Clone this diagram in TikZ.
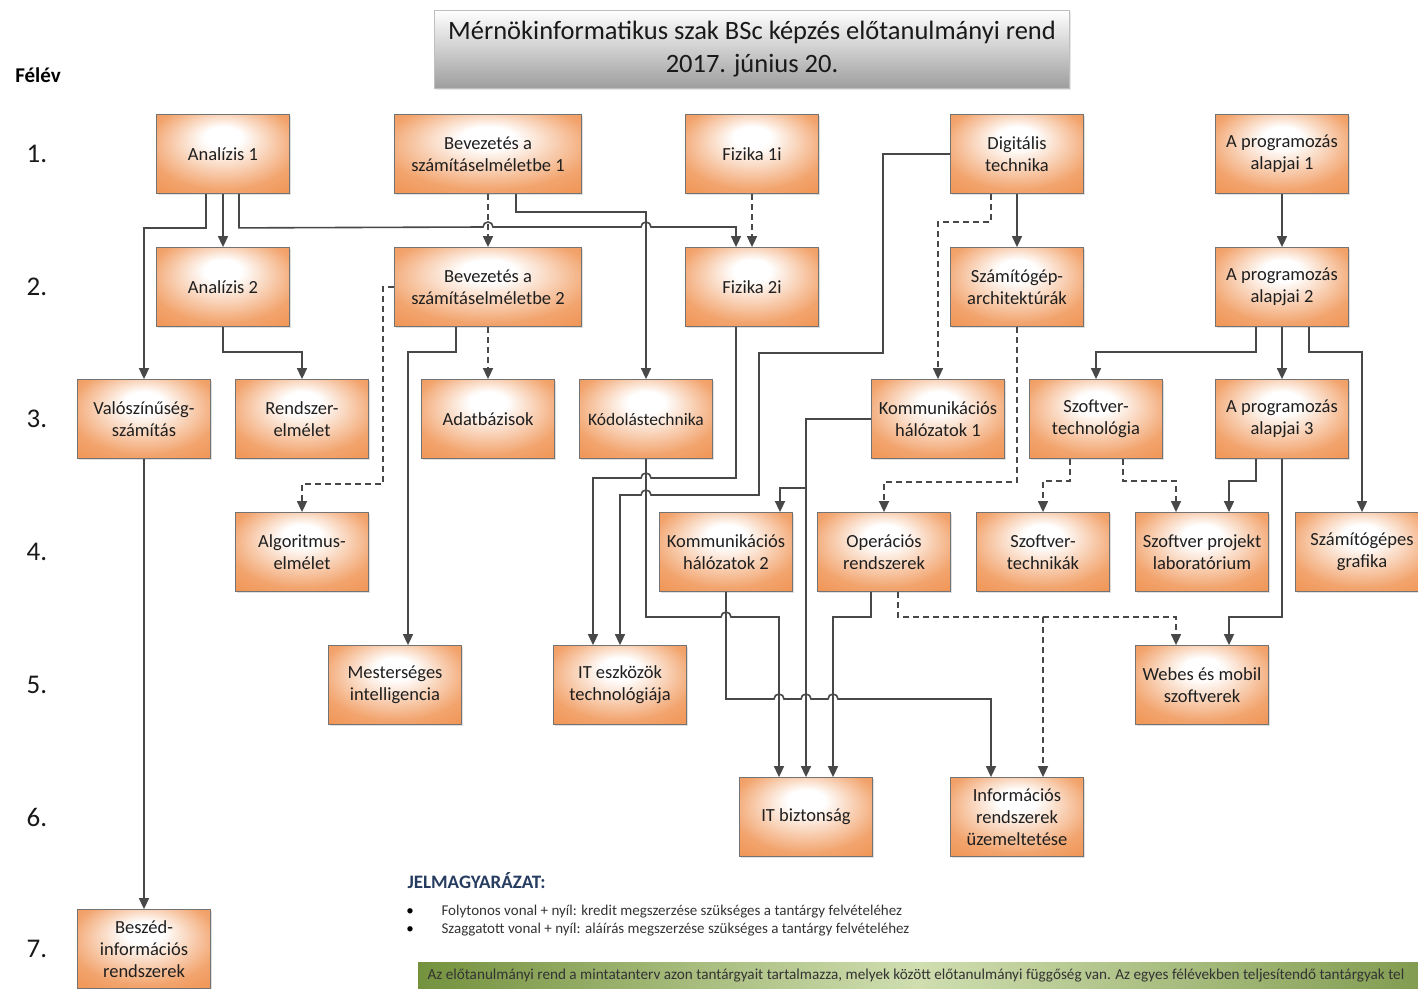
\documentclass[tikz,border=0pt]{standalone}
\usepackage{fontspec}
\setmainfont{Carlito}
\usepackage{tikz}
\usetikzlibrary{calc}
\usetikzlibrary{arrows.meta}
\usetikzlibrary{shadows}

\definecolor{boxorange}{RGB}{240,148,84}
\definecolor{linegray}{RGB}{72,72,72}
\definecolor{legendblue}{RGB}{38,60,96}
\definecolor{bardark}{RGB}{116,146,62}
\definecolor{barlight}{RGB}{208,222,176}

\pgfdeclareradialshading{coursefill}{\pgfpoint{0bp}{12bp}}{%
  color(0bp)=(white); color(7bp)=(white); color(28bp)=(boxorange!85);
  color(38bp)=(boxorange); color(50bp)=(boxorange)}

\tikzset{
  course/.style={draw=black!55, line width=0.8pt, shade, shading=coursefill,
    minimum width=133pt, minimum height=79pt, inner sep=1pt, align=center,
    text=black!88, font=\fontsize{18.5}{22}\selectfont,
    drop shadow={shadow xshift=1.5pt, shadow yshift=-1.5pt, opacity=0.25}},
  widecourse/.style={course, minimum width=187pt},
  titlebox/.style={draw=black!25, top color=white, bottom color=black!38,
    minimum width=635pt, minimum height=78pt, align=center,
    font=\fontsize{26.5}{33}\selectfont, text=black!90,
    drop shadow={shadow xshift=1.5pt, shadow yshift=-1.5pt, opacity=0.2}},
  semester/.style={font=\fontsize{27}{29}\selectfont, text=black!90},
  legendtext/.style={anchor=west, font=\fontsize{15}{17}\selectfont, text=black!80},
  req/.style={draw=linegray, line width=1.6pt, ->},
  sig/.style={req, dash pattern=on 6pt off 4pt},
}

\begin{document}
\begin{tikzpicture}[%
  x=1pt, y=-1pt,
  >={Triangle[length=11pt,width=10pt]},
  % scale=0.5,
]

  \useasboundingbox (0,0) rectangle (1418,988);
  \clip (0,0) rectangle (1418,988);

  % semesters
  \node[font=\bfseries\fontsize{21}{23}\selectfont] (felev) at (38,75) {Félév};
  \foreach \s/\y in {1/154, 2/287, 3/419, 4/552, 5/685, 6/817, 7/949}
    \node[semester] (sem\s) at (37,\y) {\s.};

  \node[titlebox] (title) at (752,49)
    {Mérnökinformatikus szak BSc képzés előtanulmányi rend\\2017. június 20.};

  % 1. félév
  \node[course] (an1) at (223,154) {Analízis 1};
  \node[widecourse] (bev1) at (488,154) {Bevezetés a\\számításelméletbe 1};
  \node[course] (fiz1) at (752,154) {Fizika 1i};
  \node[course] (digit) at (1017,154) {Digitális\\technika};
  \node[course] (prog1) at (1282,154) {A programozás\\alapjai 1};

  % 2. félév
  \node[course] (an2) at (223,287) {Analízis 2};
  \node[widecourse] (bev2) at (488,287) {Bevezetés a\\számításelméletbe 2};
  \node[course] (fiz2) at (752,287) {Fizika 2i};
  \node[course] (arch) at (1017,287) {Számítógép-\\architektúrák};
  \node[course] (prog2) at (1282,287) {A programozás\\alapjai 2};

  % 3. félév
  \node[course] (valsz) at (144,419) {Valószínűség-\\számítás};
  \node[course] (rendsz) at (302,419) {Rendszer-\\elmélet};
  \node[course] (adatb) at (488,419) {Adatbázisok};
  \node[course, font=\fontsize{17.5}{22}\selectfont] (kodol) at (646,419) {Kódolástechnika};
  \node[course] (komm1) at (938,419) {Kommunikációs\\hálózatok 1};
  \node[course] (sztech) at (1096,419) {Szoftver-\\technológia};
  \node[course] (prog3) at (1282,419) {A programozás\\alapjai 3};

  % 4. félév
  \node[course] (algel) at (302,552) {Algoritmus-\\elmélet};
  \node[course] (komm2) at (726,552) {Kommunikációs\\hálózatok 2};
  \node[course] (opr) at (884,552) {Operációs\\rendszerek};
  \node[course] (sztechn) at (1043,552) {Szoftver-\\technikák};
  \node[course] (szplab) at (1202,552) {Szoftver projekt\\laboratórium};
  \node[course] (grafika) at (1362,552) {Számítógépes\\grafika};

  % 5.-7. félév
  \node[course] (mi) at (395,685) {Mesterséges\\intelligencia};
  \node[course] (iteszk) at (620,685) {IT eszközök\\technológiája};
  \node[course] (webes) at (1202,685) {Webes és mobil\\szoftverek};
  \node[course] (itbizt) at (806,817) {IT biztonság};
  \node[course] (inforsz) at (1017,817) {Információs\\rendszerek\\üzemeltetése};
  \node[course] (beszed) at (144,949) {Beszéd-\\információs\\rendszerek};

  % from 1. félév
  \draw[req] ([xshift=-17pt]an1.south) -- ++(0,34) -| (valsz.north);
  \draw[req] (an1) -- (an2);
  \draw[req] ([xshift=16pt]an1.south) -- ++(0,34) -- (483,227)
    arc[start angle=180, end angle=360, radius=5] -- (641,227)
    arc[start angle=180, end angle=360, radius=5] -| ([xshift=-16pt]fiz2.north);
  \draw[sig] (bev1) -- (bev2);
  \draw[req] ([xshift=28pt]bev1.south) -- ++(0,18) -| (kodol.north);
  \draw[sig] (fiz1) -- (fiz2);
  \draw[req] (digit) -- (arch);
  \draw[sig] ([xshift=-26pt]digit.south) -- ++(0,28) -| (komm1.north);
  \draw[req] (digit.west) -| (883,353) -| (759,495) -- (651,495)
    arc[start angle=0, end angle=-180, radius=5] -| (iteszk.north);
  \draw[req] (prog1) -- (prog2);

  % from 2. félév
  \draw[req] (an2.south) -- ++(0,25) -| (rendsz.north);
  \draw[sig] (bev2.west) -| (383,484) -| (algel.north);
  \draw[sig] (bev2) -- (adatb);
  \draw[req] ([xshift=-32pt]bev2.south) -- ++(0,25) -| ([xshift=13pt]mi.north);
  \draw[req] ([xshift=-16pt]fiz2.south) -- (736,478) -- (651,478)
    arc[start angle=0, end angle=-180, radius=5] -| ([xshift=-27pt]iteszk.north);
  \draw[sig] (arch.south) -- ++(0,155) -| (opr.north);
  \draw[req] ([xshift=-26pt]prog2.south) -- ++(0,25) -| (sztech.north);
  \draw[req] (prog2) -- (prog3);
  \draw[req] ([xshift=27pt]prog2.south) -- ++(0,25) -| (grafika.north);

  % from 3. félév
  \draw[req] (valsz) -- (beszed);
  \draw[req] (kodol.south) -- (646,617) -- (721,617)
    arc[start angle=180, end angle=360, radius=5] -| ([xshift=-27pt]itbizt.north);
  \draw[req] (komm1.west) -| (itbizt.north);
  \draw[req] (komm1.west) -| (806,488) -| ([xshift=54pt]komm2.north);
  \draw[sig] ([xshift=-26pt]sztech.south) -- ++(0,22) -| (sztechn.north);
  \draw[sig] ([xshift=27pt]sztech.south) -- ++(0,22) -| ([xshift=-26pt]szplab.north);
  \draw[req] ([xshift=-26pt]prog3.south) -- ++(0,22) -| ([xshift=27pt]szplab.north);
  \draw[req] (prog3.south) -- ++(0,158) -| ([xshift=27pt]webes.north);

  % from 4. félév
  \draw[req] (komm2.south) -- (726,699) -- (774,699)
    arc[start angle=180, end angle=360, radius=5] -- (801,699)
    arc[start angle=180, end angle=360, radius=5] -- (828,699)
    arc[start angle=180, end angle=360, radius=5] -| ([xshift=-26pt]inforsz.north);
  \draw[req] ([xshift=-13pt]opr.south) -- ++(0,25) -| ([xshift=27pt]itbizt.north);
  \draw[sig] ([xshift=14pt]opr.south) -- ++(0,25) -| ([xshift=-26pt]webes.north);
  \draw[sig] ([xshift=14pt]opr.south) -- ++(0,25) -| ([xshift=26pt]inforsz.north);

  % legend
  \node[anchor=west, font=\bfseries\fontsize{19}{21}\selectfont, text=legendblue]
    (jel) at (404,881) {JELMAGYARÁZAT:};
  \node[font=\fontsize{15}{17}\selectfont] (b1) at (410,912) {\textbullet};
  \node[font=\fontsize{15}{17}\selectfont] (b2) at (410,930) {\textbullet};
  \node[legendtext] (leg1) at (438,912)
    {Folytonos vonal + nyíl: kredit megszerzése szükséges a tantárgy felvételéhez};
  \node[legendtext] (leg2) at (438,930)
    {Szaggatott vonal + nyíl: aláírás megszerzése szükséges a tantárgy felvételéhez};

  \shade[left color=bardark, right color=bardark!90, middle color=barlight]
    (418,962) rectangle (1418,995);
  \node[anchor=west, font=\fontsize{15.2}{17}\selectfont, text=black!80] (note) at (424,976)
    {Az előtanulmányi rend a mintatanterv azon tantárgyait tartalmazza, melyek között előtanulmányi függőség van. Az egyes félévekben teljesítendő tantárgyak tel};

\end{tikzpicture}
\end{document}
